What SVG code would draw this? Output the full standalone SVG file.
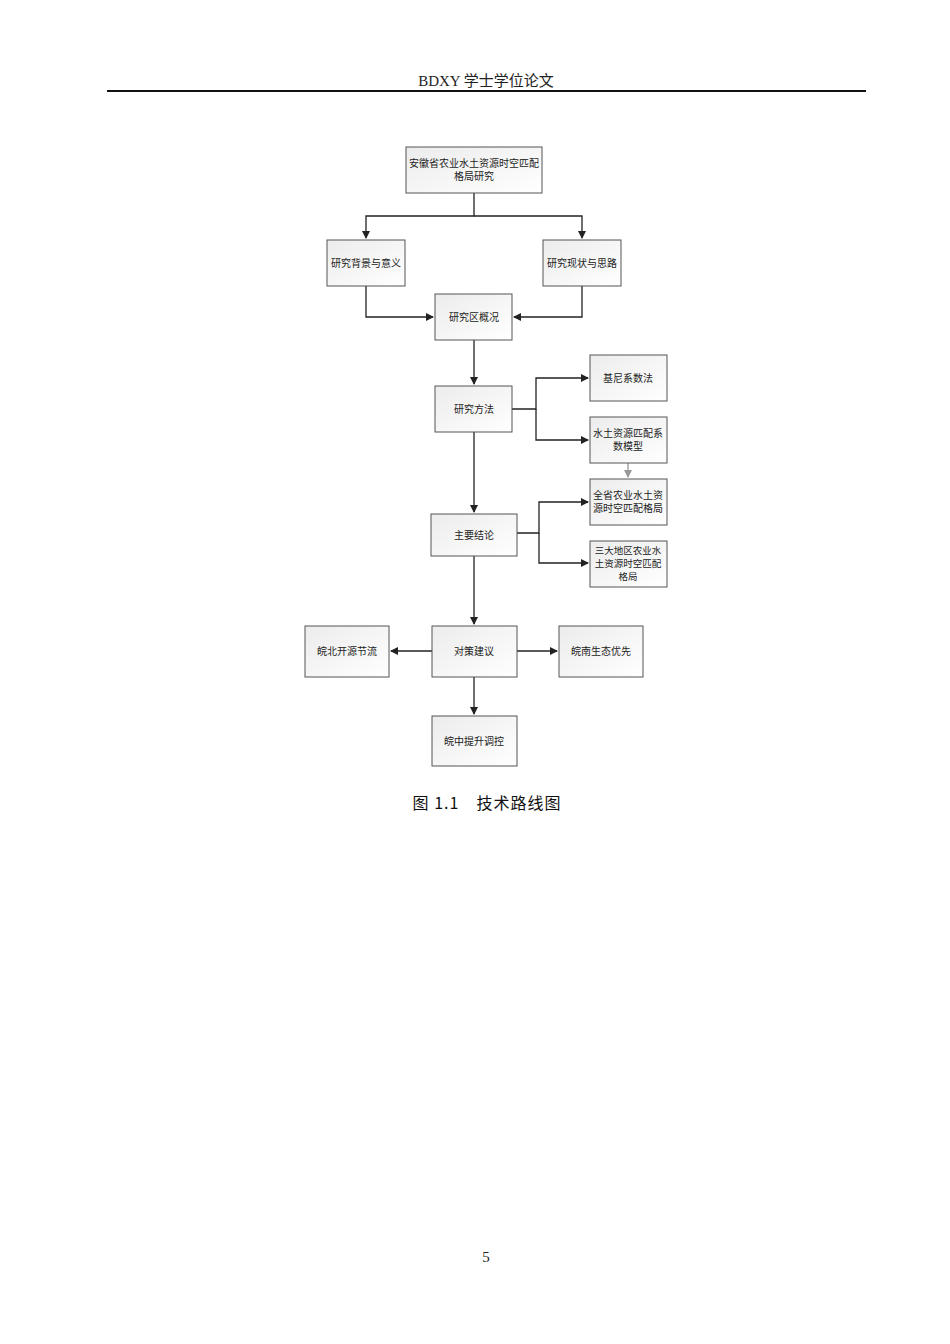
<svg xmlns="http://www.w3.org/2000/svg" width="950" height="1344" viewBox="0 0 950 1344">
<style>
.n{fill:url(#g);stroke:#555;stroke-width:1}
.t{font-family:"Noto Sans CJK SC",sans-serif;font-size:10px;fill:#222;text-anchor:middle}
.c{fill:none;stroke:#222;stroke-width:1.3}
</style>
<defs>
<linearGradient id="g" x1="0" y1="0" x2="1" y2="1"><stop offset="0" stop-color="#ececec"/><stop offset="1" stop-color="#ffffff"/></linearGradient>
<marker id="a" markerWidth="8" markerHeight="8" refX="7" refY="4" orient="auto" markerUnits="userSpaceOnUse"><path d="M0,0L8,4L0,8z" fill="#222"/></marker>
<marker id="ag" markerWidth="8" markerHeight="8" refX="7" refY="4" orient="auto" markerUnits="userSpaceOnUse"><path d="M0,0L8,4L0,8z" fill="#999"/></marker>
</defs>
<rect width="950" height="1344" fill="#fff"/>
<text x="486" y="86" font-family="Liberation Serif,Noto Sans CJK SC,serif" font-size="15" text-anchor="middle" fill="#222">BDXY 学士学位论文</text>
<line x1="107" y1="91" x2="866" y2="91" stroke="#111" stroke-width="2"/>
<g id="connectors">
<path class="c" d="M474,193V216H366V238" marker-end="url(#a)"/>
<path class="c" d="M474,216H582V238" marker-end="url(#a)"/>
<path class="c" d="M366,286V317H433" marker-end="url(#a)"/>
<path class="c" d="M582,286V317H514" marker-end="url(#a)"/>
<path class="c" d="M474,340V384" marker-end="url(#a)"/>
<path class="c" d="M512,409H536V378H588" marker-end="url(#a)"/>
<path class="c" d="M536,409V440H588" marker-end="url(#a)"/>
<path d="M628,463V477" fill="none" stroke="#999" stroke-width="1.3" marker-end="url(#ag)"/>
<path class="c" d="M474,432V512" marker-end="url(#a)"/>
<path class="c" d="M517,533H539V502H588" marker-end="url(#a)"/>
<path class="c" d="M539,533V563H588" marker-end="url(#a)"/>
<path class="c" d="M474,556V624" marker-end="url(#a)"/>
<path class="c" d="M432,651H391" marker-end="url(#a)"/>
<path class="c" d="M517,651H557" marker-end="url(#a)"/>
<path class="c" d="M474,677V714" marker-end="url(#a)"/>
</g>
<g id="n1"><rect class="n" x="406" y="147" width="136" height="46"/><text class="t" x="474" y="167">安徽省农业水土资源时空匹配</text><text class="t" x="474" y="180">格局研究</text></g>
<g id="n2"><rect class="n" x="327" y="240" width="78" height="46"/><text class="t" x="366" y="267">研究背景与意义</text></g>
<g id="n3"><rect class="n" x="543" y="240" width="78" height="46"/><text class="t" x="582" y="267">研究现状与思路</text></g>
<g id="n4"><rect class="n" x="435" y="294" width="77" height="46"/><text class="t" x="474" y="321">研究区概况</text></g>
<g id="n5"><rect class="n" x="435" y="386" width="77" height="46"/><text class="t" x="474" y="413">研究方法</text></g>
<g id="n6"><rect class="n" x="590" y="355" width="77" height="46"/><text class="t" x="628" y="382">基尼系数法</text></g>
<g id="n7"><rect class="n" x="590" y="417" width="77" height="46"/><text class="t" x="628" y="437">水土资源匹配系</text><text class="t" x="628" y="450">数模型</text></g>
<g id="n8"><rect class="n" x="590" y="479" width="77" height="46"/><text class="t" x="628" y="499">全省农业水土资</text><text class="t" x="628" y="512">源时空匹配格局</text></g>
<g id="n9"><rect class="n" x="431" y="514" width="86" height="42"/><text class="t" x="474" y="539">主要结论</text></g>
<g id="n10"><rect class="n" x="590" y="541" width="77" height="46"/><text class="t" x="628" y="554" style="font-size:9.5px">三大地区农业水</text><text class="t" x="628" y="567" style="font-size:9.5px">土资源时空匹配</text><text class="t" x="628" y="580" style="font-size:9.5px">格局</text></g>
<g id="n11"><rect class="n" x="432" y="626" width="85" height="51"/><text class="t" x="474" y="655">对策建议</text></g>
<g id="n12"><rect class="n" x="305" y="626" width="84" height="51"/><text class="t" x="347" y="655">皖北开源节流</text></g>
<g id="n13"><rect class="n" x="559" y="626" width="84" height="51"/><text class="t" x="601" y="655">皖南生态优先</text></g>
<g id="n14"><rect class="n" x="432" y="716" width="85" height="50"/><text class="t" x="474" y="745">皖中提升调控</text></g>
<text x="487" y="809" font-family="Noto Sans CJK SC,sans-serif" font-size="16" text-anchor="middle" fill="#111" letter-spacing="1">图 1.1　技术路线图</text>
<text x="486" y="1262" font-family="Liberation Serif,serif" font-size="15" text-anchor="middle" fill="#222">5</text>
</svg>
